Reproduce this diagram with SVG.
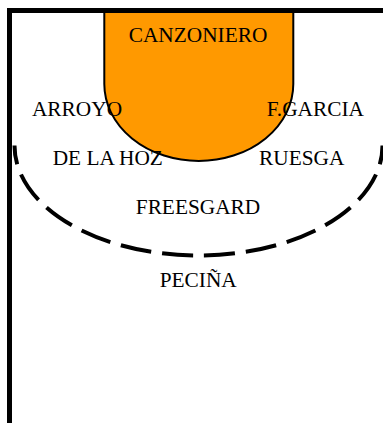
<svg xmlns="http://www.w3.org/2000/svg" width="383" height="423" viewBox="0 0 383 423">
<style>
.lbl{font-family:"Liberation Serif","Times New Roman",serif;font-size:21.33px;fill:#000;text-anchor:middle}
.arc{fill:none;stroke:#000;stroke-width:4;stroke-dasharray:31 11;stroke-dashoffset:36.5}
</style>
<rect width="383" height="423" fill="#fff"/>
<g id="court">
<path id="key" d="M104.3,10.5 V84 A94.5,77 0 0 0 293.3,84 V10.5 Z" fill="#FF9900" stroke="#000" stroke-width="2"/>
<path class="arc" d="M198.5,255.5 A184,110 0 0 1 14.5,145.5"/>
<path class="arc" d="M198.5,255.5 A184,110 0 0 0 382.5,145.5"/>
<path id="frame" d="M9.5,423 V10.5 H383" fill="none" stroke="#000" stroke-width="5"/>
</g>
<g id="connectors"></g>
<g id="canzoniero"><text class="lbl" x="198" y="42">CANZONIERO</text></g>
<g id="arroyo"><text class="lbl" x="77" y="115.7">ARROYO</text></g>
<g id="fgarcia"><text class="lbl" x="315.3" y="115.7">F.GARCIA</text></g>
<g id="delahoz"><text class="lbl" x="107.8" y="165">DE LA HOZ</text></g>
<g id="ruesga"><text class="lbl" x="301.7" y="165">RUESGA</text></g>
<g id="freesgard"><text class="lbl" x="198" y="214.3">FREESGARD</text></g>
<g id="pecina"><text class="lbl" x="198.2" y="287.3">PECIÑA</text></g>
</svg>
